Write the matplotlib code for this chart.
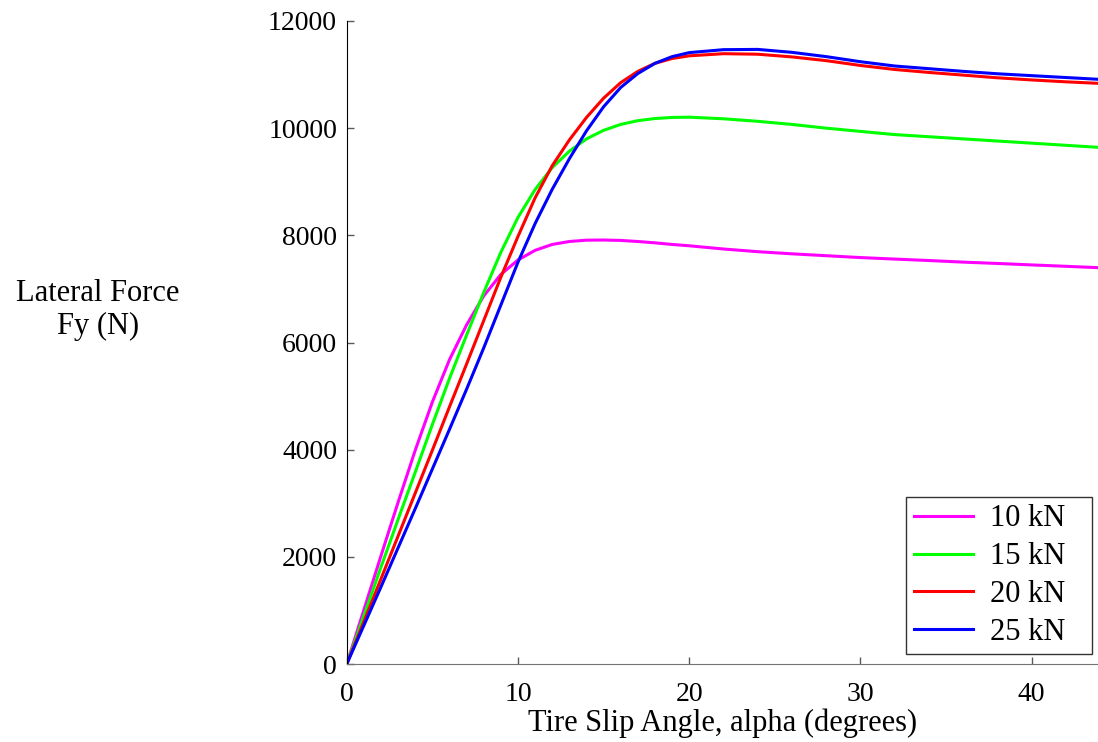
import matplotlib
matplotlib.use("Agg")
import matplotlib.pyplot as plt

plt.rcParams['font.family'] = ['Liberation Serif', 'DejaVu Serif']

# Slip angle (degrees) shared by all load cases
alpha = [0, 1, 2, 3, 4, 5, 6, 7, 8, 9, 10, 11, 12, 13, 14, 15, 16, 17, 18, 19, 20,
         22, 24, 26, 28, 30, 32, 34, 36, 38, 40, 42, 44]

# Lateral force Fy (N) for each vertical load
fy_10kN = [0, 1010, 2020, 3020, 3990, 4890, 5680, 6330, 6870, 7270, 7540, 7720, 7830,
           7885, 7910, 7913, 7905, 7885, 7860, 7830, 7805,
           7745, 7695, 7655, 7620, 7585, 7557, 7530, 7500, 7475, 7448, 7422, 7395]
fy_15kN = [0, 900, 1810, 2700, 3580, 4470, 5330, 6140, 6935, 7685, 8335, 8855, 9265,
           9570, 9800, 9960, 10070, 10140, 10180, 10200, 10205,
           10175, 10128, 10070, 10000, 9940, 9880, 9840, 9800, 9760, 9720, 9680, 9640]
fy_20kN = [0, 790, 1590, 2390, 3190, 3990, 4800, 5600, 6410, 7220, 7980, 8700, 9300,
           9780, 10200, 10560, 10850, 11060, 11210, 11300, 11350,
           11390, 11380, 11330, 11260, 11170, 11095, 11040, 10990, 10940, 10900, 10865, 10835]
fy_25kN = [0, 720, 1440, 2170, 2900, 3640, 4380, 5130, 5900, 6700, 7500, 8220, 8860,
           9430, 9950, 10400, 10760, 11020, 11210, 11335, 11410,
           11465, 11470, 11415, 11335, 11240, 11160, 11110, 11060, 11015, 10980, 10945, 10910]

loads = ["10 kN", "15 kN", "20 kN", "25 kN"]
colors = ["#ff00ff", "#00ff00", "#ff0000", "#0000ff"]

fig = plt.figure(figsize=(10.98, 7.42), dpi=100)
ax = fig.add_axes([0.3158, 0.1051, 0.6842, 0.8666])

for fy, lab, c in zip([fy_10kN, fy_15kN, fy_20kN, fy_25kN], loads, colors):
    ax.plot(alpha, fy, color=c, lw=2.2, label=lab)

ax.set_xlim(0, 43.87)
ax.set_ylim(0, 12000)
ax.set_xticks([0, 10, 20, 30, 40])
ax.set_yticks(range(0, 12001, 2000))

ax.spines['top'].set_visible(False)
ax.spines['right'].set_visible(False)
ax.spines['left'].set_color('black')
ax.spines['bottom'].set_color('0.45')
ax.tick_params(direction='in', length=5, width=1, labelsize=20, color='0.35')
ax.tick_params(axis='x', pad=13)
ax.tick_params(axis='y', pad=7)

ax.set_xlabel("Tire Slip Angle, alpha (degrees)", fontsize=22, labelpad=1)
fig.text(98 / 1098, 1 - 310 / 742, "Lateral Force\nFy (N)", fontsize=22,
         ha='center', va='center', multialignment='center')

# legend box stretched to its fixed width, entries kept at the left
leg = ax.legend(loc='lower left', bbox_to_anchor=(0.7447, 0.0151, 0.2475, 0.24),
                mode='expand', borderaxespad=0, fontsize=22, fancybox=False,
                frameon=True, handlelength=1.95, handletextpad=0.55,
                labelspacing=0.29, borderpad=0.24)
leg.get_frame().set_edgecolor('black')
leg.get_frame().set_linewidth(1.0)

fig.savefig("out.png", dpi=100)
